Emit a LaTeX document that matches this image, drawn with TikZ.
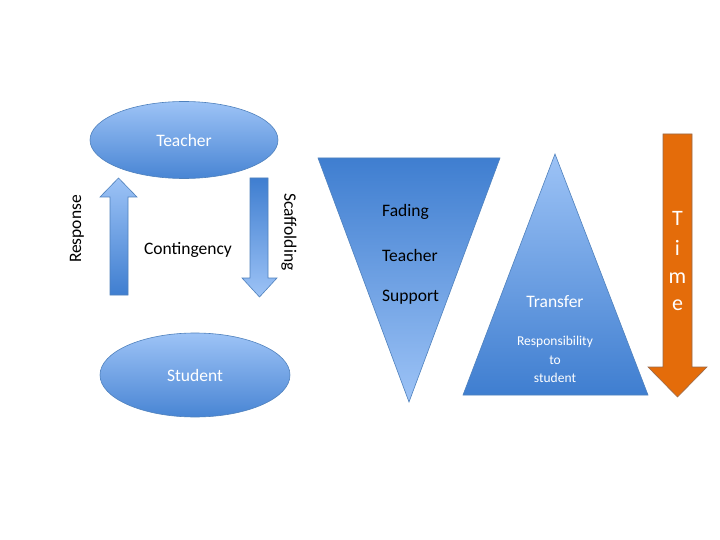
\documentclass[tikz,border=0pt]{standalone}
\usepackage{fontspec}
\setmainfont{Carlito}
\usepackage{xcolor}
\usepackage{tikz}
\usetikzlibrary{shapes.geometric}
\definecolor{bleuclair}{HTML}{9DC3F6}
\definecolor{bleufonce}{HTML}{3F7ED0}
\definecolor{bordbleu}{HTML}{4F81BD}
\definecolor{orangefleche}{HTML}{E46C0A}
\definecolor{bordorange}{HTML}{9A6A4A}
\tikzset{
  bulle/.style={ellipse, draw=bordbleu, line width=0.6pt, top color=bleuclair,
    bottom color=bleufonce!90!bleuclair, text=white,
    font=\fontsize{17.5}{21}\selectfont, inner sep=0pt},
  degradehaut/.style={draw=bordbleu, line width=0.6pt, top color=bleuclair,
    bottom color=bleufonce},
  degradebas/.style={draw=bordbleu, line width=0.6pt, top color=bleufonce,
    bottom color=bleuclair},
  etiquette/.style={font=\fontsize{17.5}{21}\selectfont, text=black, inner sep=0pt},
  etiquetteblanche/.style={etiquette, text=white},
  petite/.style={font=\fontsize{13.5}{16}\selectfont, text=white, inner sep=0pt},
  lettre/.style={font=\fontsize{22}{26}\selectfont, text=white, inner sep=0pt},
}

\begin{document}
\begin{tikzpicture}[x=1pt, y=-1pt]
    \fill[white] (0,0) rectangle (720,540);
    \useasboundingbox (0,0) rectangle (720,540);

    % cycle enseignant / eleve
    \node[bulle, minimum width=188pt, minimum height=77pt] (teacher) at (184,140) {Teacher};
    \node[bulle, minimum width=190pt, minimum height=84pt] (student) at (195,375) {Student};

    \shade[degradehaut] (110,295) -- (110,197) -- (100,197) -- (118.5,178)
      -- (137,197) -- (128,197) -- (128,295) -- cycle;
    \shade[degradebas] (250,178) -- (268,178) -- (268,278) -- (277,278)
      -- (259.5,297) -- (242,278) -- (250,278) -- cycle;

    \node[etiquette, rotate=90] (response) at (77,229) {Response};
    \node[etiquette, rotate=-90] (scaffolding) at (289,232) {Scaffolding};
    \node[etiquette] (contingency) at (188,250) {Contingency};

    % triangles
    \shade[degradebas] (318,158) -- (500,158) -- (409,402) -- cycle;
    \shade[degradehaut] (555,154) -- (648,395) -- (463,395) -- cycle;

    \node[etiquette, anchor=west] (fading) at (382,212) {Fading};
    \node[etiquette, anchor=west] (teachersup) at (382,255) {Teacher};
    \node[etiquette, anchor=west] (support) at (382,297) {Support};

    \node[etiquetteblanche] (transfer) at (555,302) {Transfer};
    \node[petite] (resp) at (555,342) {Responsibility};
    \node[petite] (to) at (555,360) {to};
    \node[petite] (stud) at (555,378) {student};

    % fleche du temps
    \filldraw[fill=orangefleche, draw=bordorange, line width=0.6pt]
      (663,134) -- (692,134) -- (692,367) -- (707,367) -- (677.5,397)
      -- (648,367) -- (663,367) -- cycle;
    \node[lettre] (t) at (677.5,218) {T};
    \node[lettre] (i) at (677.5,248) {i};
    \node[lettre] (m) at (677.5,278) {m};
    \node[lettre] (e) at (677.5,305) {e};
\end{tikzpicture}
\end{document}
